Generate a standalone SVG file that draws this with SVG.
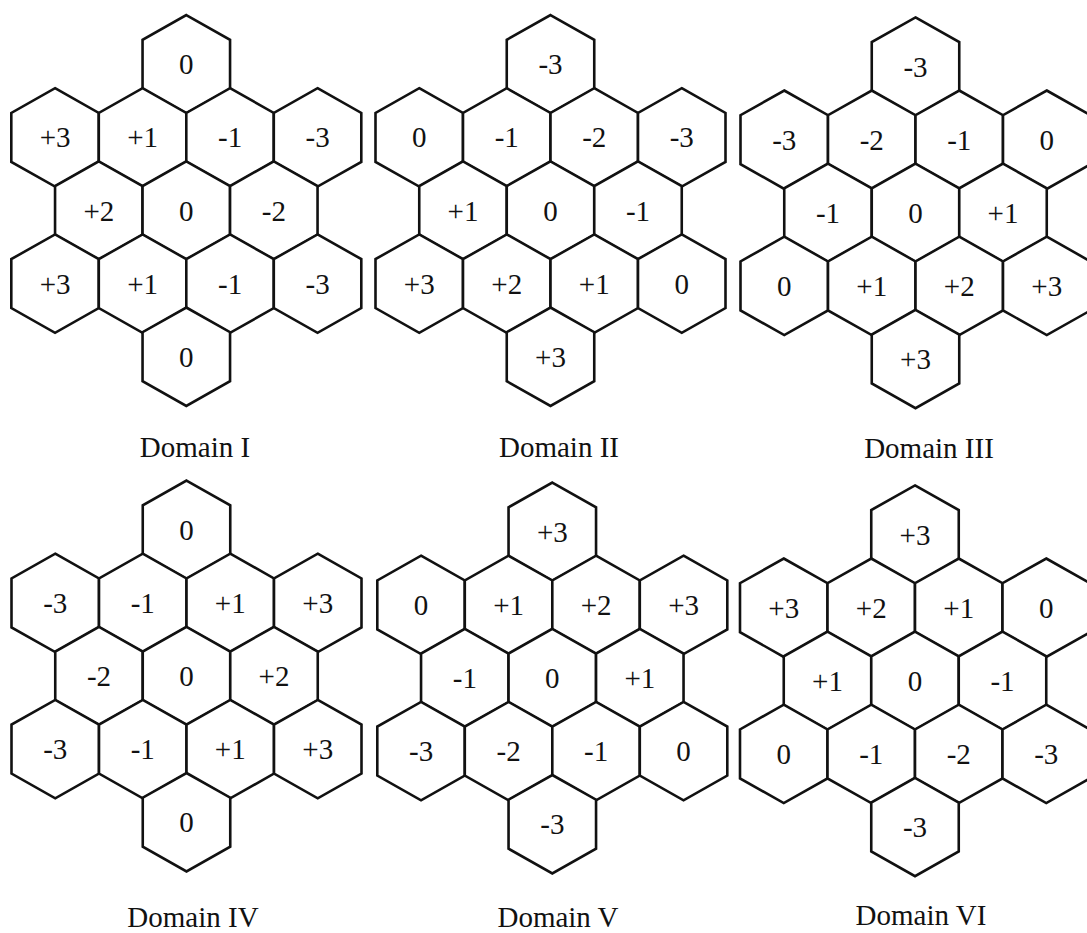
<svg xmlns="http://www.w3.org/2000/svg" xmlns:xlink="http://www.w3.org/1999/xlink" width="1087" height="933" viewBox="0 0 1087 933">
<style>
.hex{fill:#fff;stroke:#111;stroke-width:2.6;stroke-linejoin:miter}
.v{font-family:"Liberation Serif","Times New Roman",serif;font-size:29px;text-anchor:middle;fill:#111}
.lbl{font-family:"Liberation Serif","Times New Roman",serif;font-size:29px;text-anchor:middle;fill:#111}
</style>
<defs>
<polygon id="hex" class="hex" points="0,-49.2 43.75,-24.5 43.75,24.5 0,49.2 -43.75,24.5 -43.75,-24.5"/>
</defs>
<rect width="1087" height="933" fill="#fff"/>
<g id="connectors"/>

<g id="domain1" transform="translate(186.3,210.5)">
<g id="d1-top" transform="translate(0,-146.2)"><use href="#hex"/><text class="v" y="10">0</text></g>
<g id="d1-r1c1" transform="translate(-131.25,-73.1)"><use href="#hex"/><text class="v" y="10">+3</text></g>
<g id="d1-r1c2" transform="translate(-43.75,-73.1)"><use href="#hex"/><text class="v" y="10">+1</text></g>
<g id="d1-r1c3" transform="translate(43.75,-73.1)"><use href="#hex"/><text class="v" y="10">-1</text></g>
<g id="d1-r1c4" transform="translate(131.25,-73.1)"><use href="#hex"/><text class="v" y="10">-3</text></g>
<g id="d1-r2c1" transform="translate(-87.5,0)"><use href="#hex"/><text class="v" y="10">+2</text></g>
<g id="d1-r2c2" transform="translate(0,0)"><use href="#hex"/><text class="v" y="10">0</text></g>
<g id="d1-r2c3" transform="translate(87.5,0)"><use href="#hex"/><text class="v" y="10">-2</text></g>
<g id="d1-r3c1" transform="translate(-131.25,73.1)"><use href="#hex"/><text class="v" y="10">+3</text></g>
<g id="d1-r3c2" transform="translate(-43.75,73.1)"><use href="#hex"/><text class="v" y="10">+1</text></g>
<g id="d1-r3c3" transform="translate(43.75,73.1)"><use href="#hex"/><text class="v" y="10">-1</text></g>
<g id="d1-r3c4" transform="translate(131.25,73.1)"><use href="#hex"/><text class="v" y="10">-3</text></g>
<g id="d1-bot" transform="translate(0,146.2)"><use href="#hex"/><text class="v" y="10">0</text></g>
</g>

<g id="domain2" transform="translate(550.5,210.5)">
<g id="d2-top" transform="translate(0,-146.2)"><use href="#hex"/><text class="v" y="10">-3</text></g>
<g id="d2-r1c1" transform="translate(-131.25,-73.1)"><use href="#hex"/><text class="v" y="10">0</text></g>
<g id="d2-r1c2" transform="translate(-43.75,-73.1)"><use href="#hex"/><text class="v" y="10">-1</text></g>
<g id="d2-r1c3" transform="translate(43.75,-73.1)"><use href="#hex"/><text class="v" y="10">-2</text></g>
<g id="d2-r1c4" transform="translate(131.25,-73.1)"><use href="#hex"/><text class="v" y="10">-3</text></g>
<g id="d2-r2c1" transform="translate(-87.5,0)"><use href="#hex"/><text class="v" y="10">+1</text></g>
<g id="d2-r2c2" transform="translate(0,0)"><use href="#hex"/><text class="v" y="10">0</text></g>
<g id="d2-r2c3" transform="translate(87.5,0)"><use href="#hex"/><text class="v" y="10">-1</text></g>
<g id="d2-r3c1" transform="translate(-131.25,73.1)"><use href="#hex"/><text class="v" y="10">+3</text></g>
<g id="d2-r3c2" transform="translate(-43.75,73.1)"><use href="#hex"/><text class="v" y="10">+2</text></g>
<g id="d2-r3c3" transform="translate(43.75,73.1)"><use href="#hex"/><text class="v" y="10">+1</text></g>
<g id="d2-r3c4" transform="translate(131.25,73.1)"><use href="#hex"/><text class="v" y="10">0</text></g>
<g id="d2-bot" transform="translate(0,146.2)"><use href="#hex"/><text class="v" y="10">+3</text></g>
</g>

<g id="domain3" transform="translate(915.5,212.8)">
<g id="d3-top" transform="translate(0,-146.2)"><use href="#hex"/><text class="v" y="10">-3</text></g>
<g id="d3-r1c1" transform="translate(-131.25,-73.1)"><use href="#hex"/><text class="v" y="10">-3</text></g>
<g id="d3-r1c2" transform="translate(-43.75,-73.1)"><use href="#hex"/><text class="v" y="10">-2</text></g>
<g id="d3-r1c3" transform="translate(43.75,-73.1)"><use href="#hex"/><text class="v" y="10">-1</text></g>
<g id="d3-r1c4" transform="translate(131.25,-73.1)"><use href="#hex"/><text class="v" y="10">0</text></g>
<g id="d3-r2c1" transform="translate(-87.5,0)"><use href="#hex"/><text class="v" y="10">-1</text></g>
<g id="d3-r2c2" transform="translate(0,0)"><use href="#hex"/><text class="v" y="10">0</text></g>
<g id="d3-r2c3" transform="translate(87.5,0)"><use href="#hex"/><text class="v" y="10">+1</text></g>
<g id="d3-r3c1" transform="translate(-131.25,73.1)"><use href="#hex"/><text class="v" y="10">0</text></g>
<g id="d3-r3c2" transform="translate(-43.75,73.1)"><use href="#hex"/><text class="v" y="10">+1</text></g>
<g id="d3-r3c3" transform="translate(43.75,73.1)"><use href="#hex"/><text class="v" y="10">+2</text></g>
<g id="d3-r3c4" transform="translate(131.25,73.1)"><use href="#hex"/><text class="v" y="10">+3</text></g>
<g id="d3-bot" transform="translate(0,146.2)"><use href="#hex"/><text class="v" y="10">+3</text></g>
</g>

<g id="domain4" transform="translate(186.5,676)">
<g id="d4-top" transform="translate(0,-146.2)"><use href="#hex"/><text class="v" y="10">0</text></g>
<g id="d4-r1c1" transform="translate(-131.25,-73.1)"><use href="#hex"/><text class="v" y="10">-3</text></g>
<g id="d4-r1c2" transform="translate(-43.75,-73.1)"><use href="#hex"/><text class="v" y="10">-1</text></g>
<g id="d4-r1c3" transform="translate(43.75,-73.1)"><use href="#hex"/><text class="v" y="10">+1</text></g>
<g id="d4-r1c4" transform="translate(131.25,-73.1)"><use href="#hex"/><text class="v" y="10">+3</text></g>
<g id="d4-r2c1" transform="translate(-87.5,0)"><use href="#hex"/><text class="v" y="10">-2</text></g>
<g id="d4-r2c2" transform="translate(0,0)"><use href="#hex"/><text class="v" y="10">0</text></g>
<g id="d4-r2c3" transform="translate(87.5,0)"><use href="#hex"/><text class="v" y="10">+2</text></g>
<g id="d4-r3c1" transform="translate(-131.25,73.1)"><use href="#hex"/><text class="v" y="10">-3</text></g>
<g id="d4-r3c2" transform="translate(-43.75,73.1)"><use href="#hex"/><text class="v" y="10">-1</text></g>
<g id="d4-r3c3" transform="translate(43.75,73.1)"><use href="#hex"/><text class="v" y="10">+1</text></g>
<g id="d4-r3c4" transform="translate(131.25,73.1)"><use href="#hex"/><text class="v" y="10">+3</text></g>
<g id="d4-bot" transform="translate(0,146.2)"><use href="#hex"/><text class="v" y="10">0</text></g>
</g>

<g id="domain5" transform="translate(552.3,678)">
<g id="d5-top" transform="translate(0,-146.2)"><use href="#hex"/><text class="v" y="10">+3</text></g>
<g id="d5-r1c1" transform="translate(-131.25,-73.1)"><use href="#hex"/><text class="v" y="10">0</text></g>
<g id="d5-r1c2" transform="translate(-43.75,-73.1)"><use href="#hex"/><text class="v" y="10">+1</text></g>
<g id="d5-r1c3" transform="translate(43.75,-73.1)"><use href="#hex"/><text class="v" y="10">+2</text></g>
<g id="d5-r1c4" transform="translate(131.25,-73.1)"><use href="#hex"/><text class="v" y="10">+3</text></g>
<g id="d5-r2c1" transform="translate(-87.5,0)"><use href="#hex"/><text class="v" y="10">-1</text></g>
<g id="d5-r2c2" transform="translate(0,0)"><use href="#hex"/><text class="v" y="10">0</text></g>
<g id="d5-r2c3" transform="translate(87.5,0)"><use href="#hex"/><text class="v" y="10">+1</text></g>
<g id="d5-r3c1" transform="translate(-131.25,73.1)"><use href="#hex"/><text class="v" y="10">-3</text></g>
<g id="d5-r3c2" transform="translate(-43.75,73.1)"><use href="#hex"/><text class="v" y="10">-2</text></g>
<g id="d5-r3c3" transform="translate(43.75,73.1)"><use href="#hex"/><text class="v" y="10">-1</text></g>
<g id="d5-r3c4" transform="translate(131.25,73.1)"><use href="#hex"/><text class="v" y="10">0</text></g>
<g id="d5-bot" transform="translate(0,146.2)"><use href="#hex"/><text class="v" y="10">-3</text></g>
</g>

<g id="domain6" transform="translate(915,680.8)">
<g id="d6-top" transform="translate(0,-146.2)"><use href="#hex"/><text class="v" y="10">+3</text></g>
<g id="d6-r1c1" transform="translate(-131.25,-73.1)"><use href="#hex"/><text class="v" y="10">+3</text></g>
<g id="d6-r1c2" transform="translate(-43.75,-73.1)"><use href="#hex"/><text class="v" y="10">+2</text></g>
<g id="d6-r1c3" transform="translate(43.75,-73.1)"><use href="#hex"/><text class="v" y="10">+1</text></g>
<g id="d6-r1c4" transform="translate(131.25,-73.1)"><use href="#hex"/><text class="v" y="10">0</text></g>
<g id="d6-r2c1" transform="translate(-87.5,0)"><use href="#hex"/><text class="v" y="10">+1</text></g>
<g id="d6-r2c2" transform="translate(0,0)"><use href="#hex"/><text class="v" y="10">0</text></g>
<g id="d6-r2c3" transform="translate(87.5,0)"><use href="#hex"/><text class="v" y="10">-1</text></g>
<g id="d6-r3c1" transform="translate(-131.25,73.1)"><use href="#hex"/><text class="v" y="10">0</text></g>
<g id="d6-r3c2" transform="translate(-43.75,73.1)"><use href="#hex"/><text class="v" y="10">-1</text></g>
<g id="d6-r3c3" transform="translate(43.75,73.1)"><use href="#hex"/><text class="v" y="10">-2</text></g>
<g id="d6-r3c4" transform="translate(131.25,73.1)"><use href="#hex"/><text class="v" y="10">-3</text></g>
<g id="d6-bot" transform="translate(0,146.2)"><use href="#hex"/><text class="v" y="10">-3</text></g>
</g>

<g id="labels">
<text class="lbl" x="195" y="457">Domain I</text>
<text class="lbl" x="559" y="457">Domain II</text>
<text class="lbl" x="929" y="458">Domain III</text>
<text class="lbl" x="193" y="927">Domain IV</text>
<text class="lbl" x="558" y="927">Domain V</text>
<text class="lbl" x="921" y="925">Domain VI</text>
</g>
</svg>
